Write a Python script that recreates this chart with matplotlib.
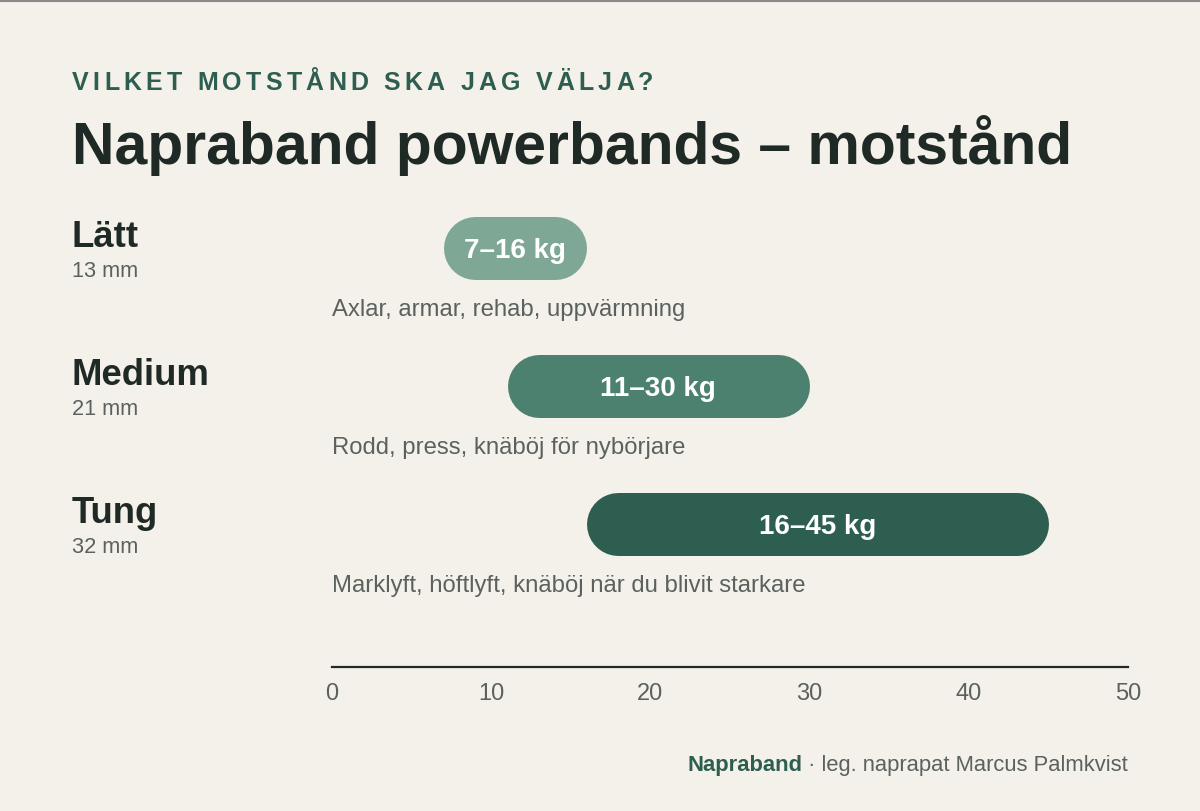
import matplotlib
matplotlib.use("Agg")
import matplotlib.pyplot as plt
from matplotlib.lines import Line2D
import matplotlib.transforms as mtransforms

plt.rcParams['font.family'] = ['Liberation Sans', 'DejaVu Sans']

# data
bands = ["Lätt", "Medium", "Tung"]
thickness = ["13 mm", "21 mm", "32 mm"]
low = [7, 11, 16]
high = [16, 30, 45]
uses = ["Axlar, armar, rehab, uppvärmning",
        "Rodd, press, knäböj för nybörjare",
        "Marklyft, höftlyft, knäböj när du blivit starkare"]
colors = ["#7ea895", "#4c816f", "#2e5e50"]
ticks = [0, 10, 20, 30, 40, 50]

BG = "#f4f1ea"
DARK = "#1f2a26"
GREEN = "#2e5e50"
GRAY = "#5b615e"

W, H = 1200, 811
fig = plt.figure(figsize=(12, 8.11), dpi=100, facecolor=BG)

# axes: x 0..50 -> px 332..1128, bottom spine at px 667
ax_left, ax_right, ax_top, ax_bot = 332, 1128, 200, 667
ax = fig.add_axes([ax_left / W, (H - ax_bot) / H, (ax_right - ax_left) / W, (ax_bot - ax_top) / H])
ax.set_facecolor(BG)
row_px = 138
first_px = 248.3
ax.set_xlim(0, 50)
ax.set_ylim((ax_bot - first_px) / row_px, -(first_px - ax_top) / row_px)

for s in ["top", "left", "right"]:
    ax.spines[s].set_visible(False)
ax.spines["bottom"].set_color(DARK)
ax.spines["bottom"].set_linewidth(1.6)
ax.set_yticks([])
ax.set_xticks(ticks)
ax.tick_params(axis="x", length=0, pad=11.5, labelsize=17, labelcolor=GRAY)

px_per_x = (ax_right - ax_left) / 50
bar_h_px = 63
r = (bar_h_px / 2) / px_per_x
lw_pt = bar_h_px * 72 / fig.dpi

blend = mtransforms.blended_transform_factory(fig.transFigure, ax.transData)

for i in range(len(bands)):
    ax.plot([low[i] + r, high[i] - r], [i, i], color=colors[i], lw=lw_pt,
            solid_capstyle="round", zorder=2)
    ax.text((low[i] + high[i]) / 2, i + 0.073, f"{low[i]}–{high[i]} kg", ha="center",
            va="baseline", color="white", fontsize=20, fontweight="bold", zorder=3)
    ax.text(0, i + 0.49, uses[i], ha="left", va="baseline", color=GRAY, fontsize=17.2)
    ax.text(72 / W, i - 0.007, bands[i], transform=blend, ha="left", va="baseline",
            color=DARK, fontsize=26.3, fontweight="bold")
    ax.text(72 / W, i + 0.205, thickness[i], transform=blend, ha="left", va="baseline",
            color=GRAY, fontsize=15.7)

# title
fig.text(72 / W, (H - 164) / H, "Napraband powerbands – motstånd", ha="left",
         va="baseline", color=DARK, fontsize=42.4, fontweight="bold")

# letter-spaced subtitle
renderer = fig.canvas.get_renderer()
sub = "VILKET MOTSTÅND SKA JAG VÄLJA?"
x = 72
spacing = 4.25
for ch in sub:
    t = fig.text(x / W, (H - 90) / H, ch, ha="left", va="baseline", color=GREEN,
                 fontsize=18, fontweight="bold")
    if ch == " ":
        w = t.get_fontsize() * fig.dpi / 72 * 0.278
    else:
        w = t.get_window_extent(renderer).width
    x += w + spacing

# footer
t2 = fig.text(1128 / W, (H - 771) / H, " · leg. naprapat Marcus Palmkvist", ha="right",
              va="baseline", color=GRAY, fontsize=15.8)
w2 = t2.get_window_extent(renderer).width
fig.text((1128 - w2) / W, (H - 771) / H, "Napraband", ha="right", va="baseline",
         color=GREEN, fontsize=15.8, fontweight="bold")

# top border
fig.add_artist(Line2D([0, 1], [1 - 1 / H, 1 - 1 / H], transform=fig.transFigure,
                      color="#8a8a8a", lw=1.5))

fig.savefig("out.png", dpi=100, facecolor=BG)
